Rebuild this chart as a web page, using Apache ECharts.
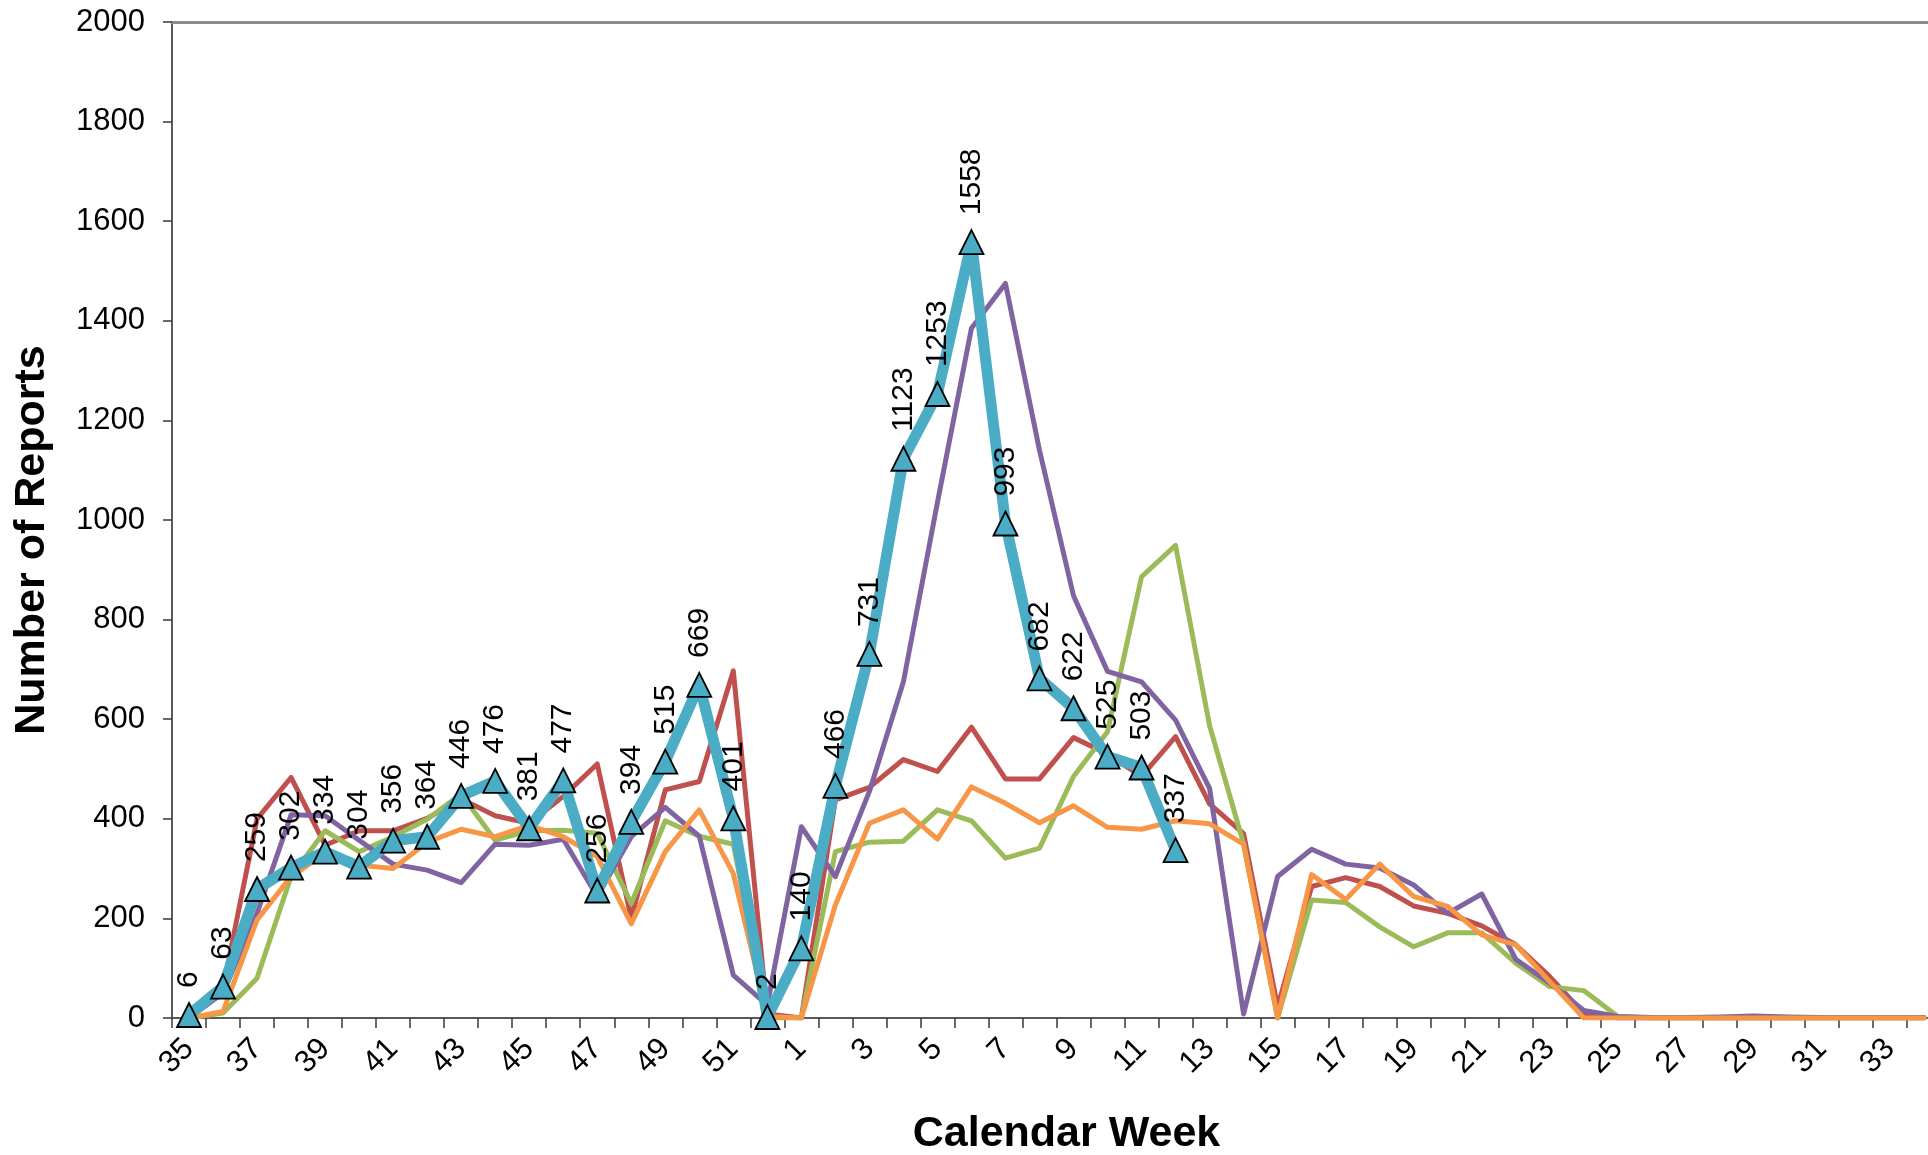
<!DOCTYPE html>
<html>
<head>
<meta charset="utf-8">
<script src="https://cdn.jsdelivr.net/npm/echarts@6/dist/echarts.min.js"></script>
<style>
html,body{margin:0;padding:0;overflow:hidden;background:#ffffff;}
#chart{width:1941px;height:1155px;}
</style>
</head>
<body>
<div id="chart"></div>
<script>
// Calendar weeks (season runs from week 35 to week 34 of the following year)
const weeks = ['35','36','37','38','39','40','41','42','43','44','45','46','47','48','49','50','51','52',
  '1','2','3','4','5','6','7','8','9','10','11','12','13','14','15','16','17','18','19','20',
  '21','22','23','24','25','26','27','28','29','30','31','32','33','34'];

// Current season (thick line, triangles, labelled)
const currentSeason = [6,63,259,302,334,304,356,364,446,476,381,477,256,394,515,669,401,2,
  140,466,731,1123,1253,1558,993,682,622,525,503,337,
  null,null,null,null,null,null,null,null,null,null,null,null,null,null,null,null,null,null,null,null,null,null];

// Previous seasons (thin lines)
const seasonRed = [0,60,400,483,347,376,376,401,440,406,391,445,510,200,458,475,697,8,
  0,438,463,519,495,584,480,480,563,530,485,565,430,370,22,264,282,264,225,210,
  185,147,83,9,0,0,0,0,0,0,0,0,0,0];

const seasonOrange = [0,13,197,284,331,307,300,353,379,364,387,364,324,189,334,418,290,3,
  0,227,391,418,359,464,431,392,426,383,379,396,390,349,0,288,238,309,244,224,
  167,147,73,0,0,0,0,0,0,0,0,0,0,0];

const seasonGreen = [0,10,80,284,376,334,364,399,450,357,376,377,371,230,396,365,349,0,
  0,334,353,355,418,396,321,341,485,575,886,949,587,350,0,237,232,183,143,171,
  171,110,63,55,3,0,0,0,0,0,0,0,0,0];

const seasonPurple = [0,50,210,408,406,357,309,297,272,349,347,359,244,364,423,365,86,26,
  384,284,455,675,1035,1385,1475,1140,848,696,675,598,461,8,284,339,309,301,267,210,
  249,118,70,15,3,1,1,2,4,2,1,1,1,1];

const yTicks = {min: 0, max: 2000, interval: 200};

const FONT = 'Liberation Sans, Arial, sans-serif';

const chart = echarts.init(document.getElementById('chart'), null, {renderer: 'canvas'});

function thin(name, data, color) {
  return {
    name: name, type: 'line', data: data, xAxisIndex: 0, yAxisIndex: 0,
    showSymbol: false, symbol: 'none',
    lineStyle: {color: color, width: 5, join: 'round', cap: 'round'},
    itemStyle: {color: color},
    connectNulls: false, z: 2
  };
}

const option = {
  animation: false,
  backgroundColor: '#ffffff',
  textStyle: {fontFamily: FONT},
  grid: {left: 172, top: 22, right: 0, bottom: 137, containLabel: false, outerBoundsMode: 'none'},
  xAxis: [{
    type: 'category',
    data: weeks,
    position: 'bottom',
    boundaryGap: true,
    name: 'Calendar Week',
    nameLocation: 'middle',
    nameGap: 95,
    nameTextStyle: {fontFamily: FONT, fontSize: 43, fontWeight: 'bold', color: '#000', padding: [0, 0, 0, 20]},
    axisLine: {show: true, onZero: false, lineStyle: {color: '#5a5a5a', width: 2}},
    axisTick: {show: true, interval: 0, length: 10, lineStyle: {color: '#3a3a3a', width: 1.5}},
    axisLabel: {interval: 1, rotate: 45, fontSize: 31, color: '#000', fontFamily: FONT, margin: 26},
    splitLine: {show: false}
  }, {
    type: 'category',
    data: weeks,
    position: 'top',
    boundaryGap: true,
    axisLine: {show: true, onZero: false, lineStyle: {color: '#8c8c8c', width: 3}},
    axisTick: {show: false},
    axisLabel: {show: false},
    splitLine: {show: false}
  }],
  yAxis: [{
    type: 'value',
    min: yTicks.min, max: yTicks.max, interval: yTicks.interval,
    name: 'Number of Reports',
    nameLocation: 'middle',
    nameGap: 118,
    nameTextStyle: {fontFamily: FONT, fontSize: 43, fontWeight: 'bold', color: '#000', padding: [0, 40, 0, 0]},
    axisLine: {show: true, lineStyle: {color: '#5a5a5a', width: 2}},
    axisTick: {show: true, length: 9, lineStyle: {color: '#3a3a3a', width: 1.5}},
    axisLabel: {fontSize: 31, color: '#000', fontFamily: FONT, margin: 27, formatter: function (v) { return String(v); }},
    splitLine: {show: false}
  }],
  series: [
    thin('Season 1', seasonRed, '#C0504D'),
    thin('Season 2', seasonGreen, '#9BBB59'),
    thin('Season 3', seasonPurple, '#8064A2'),
    thin('Season 4', seasonOrange, '#F79646'),
    {
      name: 'Current season', type: 'line', data: currentSeason, xAxisIndex: 0, yAxisIndex: 0,
      symbol: 'triangle', symbolSize: 24, showSymbol: true, showAllSymbol: true,
      lineStyle: {color: '#4BACC6', width: 11, join: 'round'},
      itemStyle: {color: '#4BACC6', borderColor: '#000000', borderWidth: 1.8},
      label: {
        show: true, position: 'top', distance: 14, rotate: 90,
        align: 'left', verticalAlign: 'middle',
        fontSize: 30, color: '#000', fontFamily: FONT
      },
      labelLayout: {hideOverlap: false},
      connectNulls: false, z: 5
    }
  ]
};

chart.setOption(option);
</script>
</body>
</html>
